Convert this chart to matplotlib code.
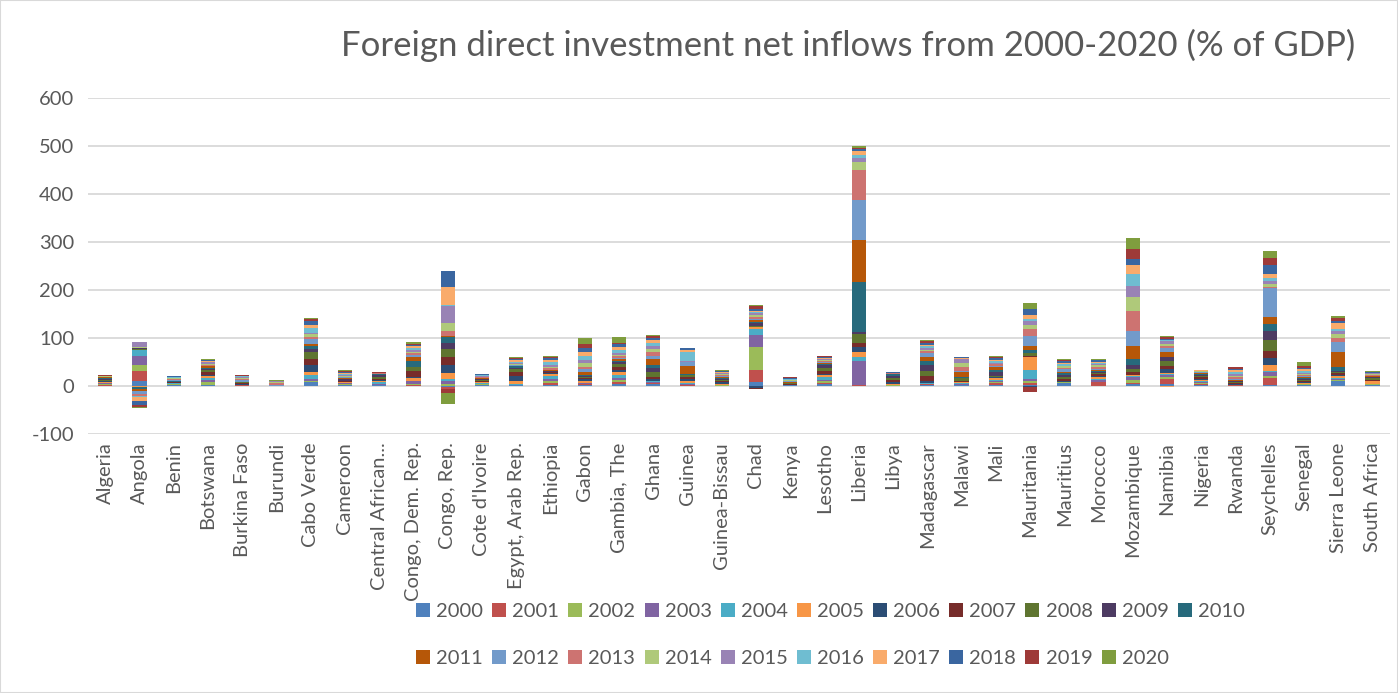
import numpy as np
import matplotlib.pyplot as plt
from matplotlib.patches import Patch, Rectangle

plt.rcParams["font.family"] = ["Lato", "DejaVu Sans"]
plt.rcParams["axes.unicode_minus"] = False

years = [str(y) for y in range(2000, 2021)]

countries = [
    "Algeria", "Angola", "Benin", "Botswana", "Burkina Faso", "Burundi",
    "Cabo Verde", "Cameroon", "Central African...", "Congo, Dem. Rep.",
    "Congo, Rep.", "Cote d'Ivoire", "Egypt, Arab Rep.", "Ethiopia", "Gabon",
    "Gambia, The", "Ghana", "Guinea", "Guinea-Bissau", "Chad", "Kenya",
    "Lesotho", "Liberia", "Libya", "Madagascar", "Malawi", "Mali",
    "Mauritania", "Mauritius", "Morocco", "Mozambique", "Namibia", "Nigeria",
    "Rwanda", "Seychelles", "Senegal", "Sierra Leone", "South Africa",
]

# FDI net inflows (% of GDP), one list per country, years 2000..2020
algeria = [0.5, 2.0, 2.0, 0.9, 1.0, 1.1, 1.9, 1.2, 2.1, 2.5, 1.4, 0.7, 0.7, 0.7, 0.7, -0.3, 0.1, 0.7, 0.8, 0.8, 0.7]
angola = [9.5, 22, 12.5, 19, 12, -2, -0.2, -1, 1.5, 2.5, -4, -3.5, -5.5, -6, 2.5, 10, -0.5, -9, -9, -4, -2]
benin = [1.0, 1.3, 0.6, 0.9, 1.0, 0.4, 0.4, 1.5, 1.0, 0.7, 0.9, 1.1, 1.7, 1.6, 1.6, 0.9, 0.7, 0.9, 1.2, 0.7, 0.8]
botswana = [1.0, 0.6, 7.0, 4.5, 4.0, 3.0, 3.4, 5.5, 4.8, 1.6, 1.1, 4.0, 1.2, 1.5, 3.0, 2.6, 1.0, 1.3, 2.2, 1.0, 0.8]
burkina = [0.4, 0.4, 0.5, 0.3, 0.5, 0.5, 0.6, 2.5, 1.3, 1.1, 0.4, 0.4, 2.8, 2.0, 2.0, 1.7, 2.1, 0.2, 0.9, 1.9, 0.5]
burundi = [0.2, 0.0, 0.0, 0.0, 0.0, 0.1, 0.0, 0.0, 0.2, 0.0, 0.0, 0.1, 0.1, 4.5, 2.5, 2.0, 0.3, 0.3, 0.3, 0.4, 1.5]
cabo_verde = [7, 1.5, 2.5, 3, 7.5, 8, 14, 13, 13, 7.5, 6, 5, 8.5, 5.5, 5, 4, 10, 5, 8, 5, 2]
cameroon = [1.5, 0.5, 0.8, 2.5, 1.0, 1.5, 0.7, 1.7, 0.7, 2.6, 1.4, 1.0, 1.4, 1.3, 2.0, 2.0, 2.0, 2.3, 2.2, 2.1, 1.7]
car = [0.9, 0.8, 0.5, 2.0, 3.0, 2.2, 2.0, 3.8, 3.5, 3.0, 3.3, 0.2, 0.4, 0.1, 0.2, 0.1, 0.4, 0.3, 0.8, 1.2, 0.8]
congo_dem = [0.4, 1.0, 2.4, 5.8, 1.2, 6.1, 2.3, 12.0, 7.5, 0.4, 13.0, 7.0, 5.4, 3.4, 3.2, 3.8, 3.6, 3.6, 3.1, 2.7, 3.0]
congo_rep = [-2, -5, 4, 5, 5, 12.5, 17, 16, 18, 12.5, 12.5, 0.3, 0.3, 12, 15, 37, 0.5, 39, 33, -9, -21]
cote_ivoire = [1.6, 0.3, 1.5, 1.1, 1.4, 1.4, 1.4, 1.8, 1.8, 1.7, 1.0, 1.0, 1.0, 1.0, 1.0, 1.2, 1.3, 1.1, 1.0, 0.8, 0.5]
egypt = [1.2, 0.5, 0.7, 0.3, 1.6, 6.0, 9.3, 8.9, 5.8, 3.6, 2.9, -0.2, 2.0, 1.5, 1.6, 2.1, 2.4, 3.1, 2.4, 2.5, 1.6]
ethiopia = [1.6, 4.9, 2.7, 5.6, 5.9, 3.1, 3.5, 1.8, 0.4, 0.7, 0.9, 2.1, 0.6, 2.6, 3.0, 4.0, 5.4, 5.0, 4.1, 2.6, 2.4]
gabon = [2.5, 1.5, 0.5, 0.5, 1.0, 4.0, 3.5, 3.0, 2.5, 1.5, 3.0, 5.0, 6.0, 5.0, 8.0, 6.0, 8.0, 9.0, 8.0, 7.6, 13.0]
gambia = [4.6, 4.0, 4.0, 3.9, 5.9, 5.7, 5.5, 6.5, 5.3, 4.3, 2.9, 3.8, 2.3, 2.6, 2.8, 4.8, 6.5, 5.8, 5.0, 3.6, 12.5]
ghana = [3.3, 1.7, 1.0, 1.6, 1.5, 1.3, 3.1, 5.6, 9.5, 7.6, 7.0, 12.0, 7.9, 6.7, 6.7, 7.0, 6.3, 4.9, 4.5, 3.9, 2.2]
guinea = [0.6, 0.1, 0.9, 2.2, 2.9, 3.4, 4.0, 4.0, 4.0, 1.2, 2.1, 15.0, 9.0, 0.3, 0.9, 0.2, 19.0, 4.5, 3.7, 0.5, 0.6]
guinea_bissau = [0.2, 0.1, 0.9, 0.6, 0.3, 1.4, 4.0, 3.0, 0.7, 2.1, 3.0, 3.0, 0.7, 1.8, 2.2, 1.8, 1.3, 1.4, 1.5, 1.3, 1.4]
chad = [7.6, 26, 47, 26, 12, 3, -4, -2, 3, 5.5, 3.5, 2.5, 4, 3.5, 3.5, 3.5, 3, 3, 4, 5, 3]
kenya = [0.9, 0.1, 0.2, 0.5, 0.3, 0.1, 0.2, 2.3, 0.3, 0.3, 0.4, 3.1, 1.1, 1.0, 1.2, 0.9, 0.6, 1.4, 1.5, 0.9, 1.5]
lesotho = [3.0, 2.5, 4.0, 3.5, 5.0, 4.5, 1.5, 7.0, 6.5, 5.8, 1.8, 2.6, 2.3, 1.9, 1.1, 1.9, 1.8, 1.2, 1.7, 1.6, 1.0]
liberia = [0.5, 0.3, 0.4, 51, 8, 10, 11, 7, 19, 5.5, 103, 88, 83, 62, 17, 8, 8, 8, 4, 2, 3.5]
libya = [0.3, -0.3, 0.5, 0.6, 1.0, 2.3, 3.6, 3.5, 4.4, 4.8, 2.7, 0.0, 1.7, 0.9, 0.2, 0.5, 0.4, 0.3, 0.4, 0.5, 0.6]
madagascar = [2.0, 0.8, 0.3, 0.3, 1.6, 1.4, 3.7, 10, 10, 14, 7, 9, 7.5, 4.5, 3.5, 3, 4, 3.3, 3.5, 3.3, 3.0]
malawi = [0.9, 0.7, 0.4, 1.9, 2.5, 0.8, 0.8, 2.8, 5.4, 0.8, 1.8, 9.0, 2.0, 9.0, 8.0, 8.0, 2.0, 1.0, 1.2, 0.9, 1.0]
mali = [1.8, 3.2, 3.0, 2.5, 1.9, 4.5, 1.2, 1.1, 1.4, 8.5, 4.4, 5.0, 3.0, 3.1, 1.3, 2.3, 2.5, 3.5, 3.0, 3.4, 1.0]
mauritania = [2.5, 3, 3.5, 5, 18, 28, -3, 3, 6, -0.5, 6, 8, 21, 15, 7.6, 7.6, 4, 9, 12, -10, 12.5]
mauritius = [5.8, 0.5, 0.7, 0.6, 0.2, 0.6, 1.6, 4.6, 4.4, 2.8, 4.4, 3.2, 5.4, 2.2, 3.3, 1.8, 2.9, 3.0, 2.8, 3.3, 1.4]
morocco = [0.6, 7.0, 0.1, 4.3, 1.6, 4.0, 2.9, 3.6, 2.8, 2.0, 1.6, 2.6, 2.9, 3.2, 3.2, 3.2, 2.1, 2.4, 3.3, 1.3, 1.2]
mozambique = [3, 2.5, 6, 6.5, 2, 2, 1.5, 5, 6.5, 9, 12, 26, 33, 40, 29, 23, 26, 18, 12.5, 21, 23]
namibia = [4, 10, 4, 3.5, 2.5, 3.5, 7, 6.5, 10, 8, 2, 9, 8, 5.5, 4, 5, 3, -2.5, 2, 3.5, 2.5]
nigeria = [1.8, 1.6, 2.5, 2.3, 2.1, 2.6, 2.0, 2.7, 2.6, 2.4, 1.7, 2.2, 1.5, 1.1, 0.9, 0.6, 0.8, 0.5, 0.2, 0.5, 0.6]
rwanda = [0.4, 0.3, 0.1, 0.3, 0.5, 0.5, 0.8, 2.2, 2.3, 2.1, 0.7, 1.7, 2.3, 3.3, 3.2, 4.4, 4.0, 3.2, 3.5, 2.5, 1.5]
seychelles = [2, 14, 5, 7, 3.5, 12, 14, 16, 21, 19, 15, 15, 61, 1, 7, 6, 6, 7.6, 19, 15, 14.6]
senegal = [1.3, 0.7, 1.3, 0.8, 0.6, 0.6, 2.4, 2.3, 2.4, 2.0, 2.1, 1.9, 2.0, 2.1, 2.5, 2.6, 2.6, 3.9, 3.5, 4.3, 7.0]
sierra_leone = [9, 1, 2, 1.5, 3, 4, 3, 3, 2, 1.5, 10, 31, 21, 7, 9, 5.5, 4, 12.5, 5, 6, 4]
south_africa = [0.7, 1.5, 1.3, 0.4, 0.3, 5.5, 0.2, 2.2, 3.5, 2.6, 1.0, 1.0, 1.1, 2.2, 1.7, 0.5, 0.7, 0.6, 1.3, 1.3, 0.9]

colors = [
    "#4F81BD", "#C0504D", "#9BBB59", "#8064A2", "#4BACC6", "#F79646",
    "#2C4D75", "#772C2A", "#5F7530", "#4D3B62", "#276A7C", "#B65708",
    "#729ACA", "#CD7371", "#AFC97A", "#9983B5", "#6FBDD1", "#F9AB6B",
    "#3A66A0", "#9E3A38", "#7F9D3E",
]

# rows = countries, cols = years
values = np.array([
    algeria, angola, benin, botswana, burkina, burundi, cabo_verde, cameroon,
    car, congo_dem, congo_rep, cote_ivoire, egypt, ethiopia, gabon, gambia,
    ghana, guinea, guinea_bissau, chad, kenya, lesotho, liberia, libya,
    madagascar, malawi, mali, mauritania, mauritius, morocco, mozambique,
    namibia, nigeria, rwanda, seychelles, senegal, sierra_leone, south_africa,
], dtype=float)

text_col = "#595959"
grid_col = "#D9D9D9"

fig = plt.figure(figsize=(13.98, 6.93), dpi=100)
ax = fig.add_axes([0.063, 0.374, 0.931, 0.485])

x = np.arange(len(countries))
pos_bottom = np.zeros(len(countries))
neg_bottom = np.zeros(len(countries))
handles = []
for j, yr in enumerate(years):
    col = values[:, j]
    bottom = np.where(col >= 0, pos_bottom, neg_bottom)
    ax.bar(x, col, bottom=bottom, width=0.42, color=colors[j], linewidth=0, zorder=3)
    pos_bottom += np.where(col >= 0, col, 0)
    neg_bottom += np.where(col < 0, col, 0)
    handles.append(Patch(facecolor=colors[j], label=yr))

ax.set_xlim(-0.5, len(countries) - 0.5)
ax.set_ylim(-100, 600)
ax.set_yticks(range(-100, 601, 100))
ax.yaxis.grid(True, color=grid_col, linewidth=1.3, zorder=0)
ax.set_xticks(x)
ax.set_xticklabels(countries, rotation=90, fontsize=14.5, color=text_col)
ax.tick_params(axis="y", labelsize=14.5, labelcolor=text_col, length=0, pad=10)
ax.tick_params(axis="x", length=0, pad=6)
for s in ax.spines.values():
    s.set_visible(False)

fig.text(0.607, 0.935, "Foreign direct investment net inflows from 2000-2020 (% of GDP)",
         ha="center", va="center", fontsize=25, color=text_col)

# row-major legend: 11 columns, 2 rows
order = []
for c in range(10):
    order += [handles[c], handles[c + 11]]
order.append(handles[10])
fig.legend(handles=order, loc="center", bbox_to_anchor=(0.594, 0.084), ncol=11,
           frameon=False, fontsize=14.5, labelcolor=text_col,
           handlelength=0.7, handleheight=0.7, handletextpad=0.3,
           columnspacing=0.45, labelspacing=1.5)

fig.patches.append(Rectangle((0, 0), 1, 1, transform=fig.transFigure,
                             fill=False, edgecolor=grid_col, linewidth=1.5))

fig.savefig("out.png", dpi=100)
